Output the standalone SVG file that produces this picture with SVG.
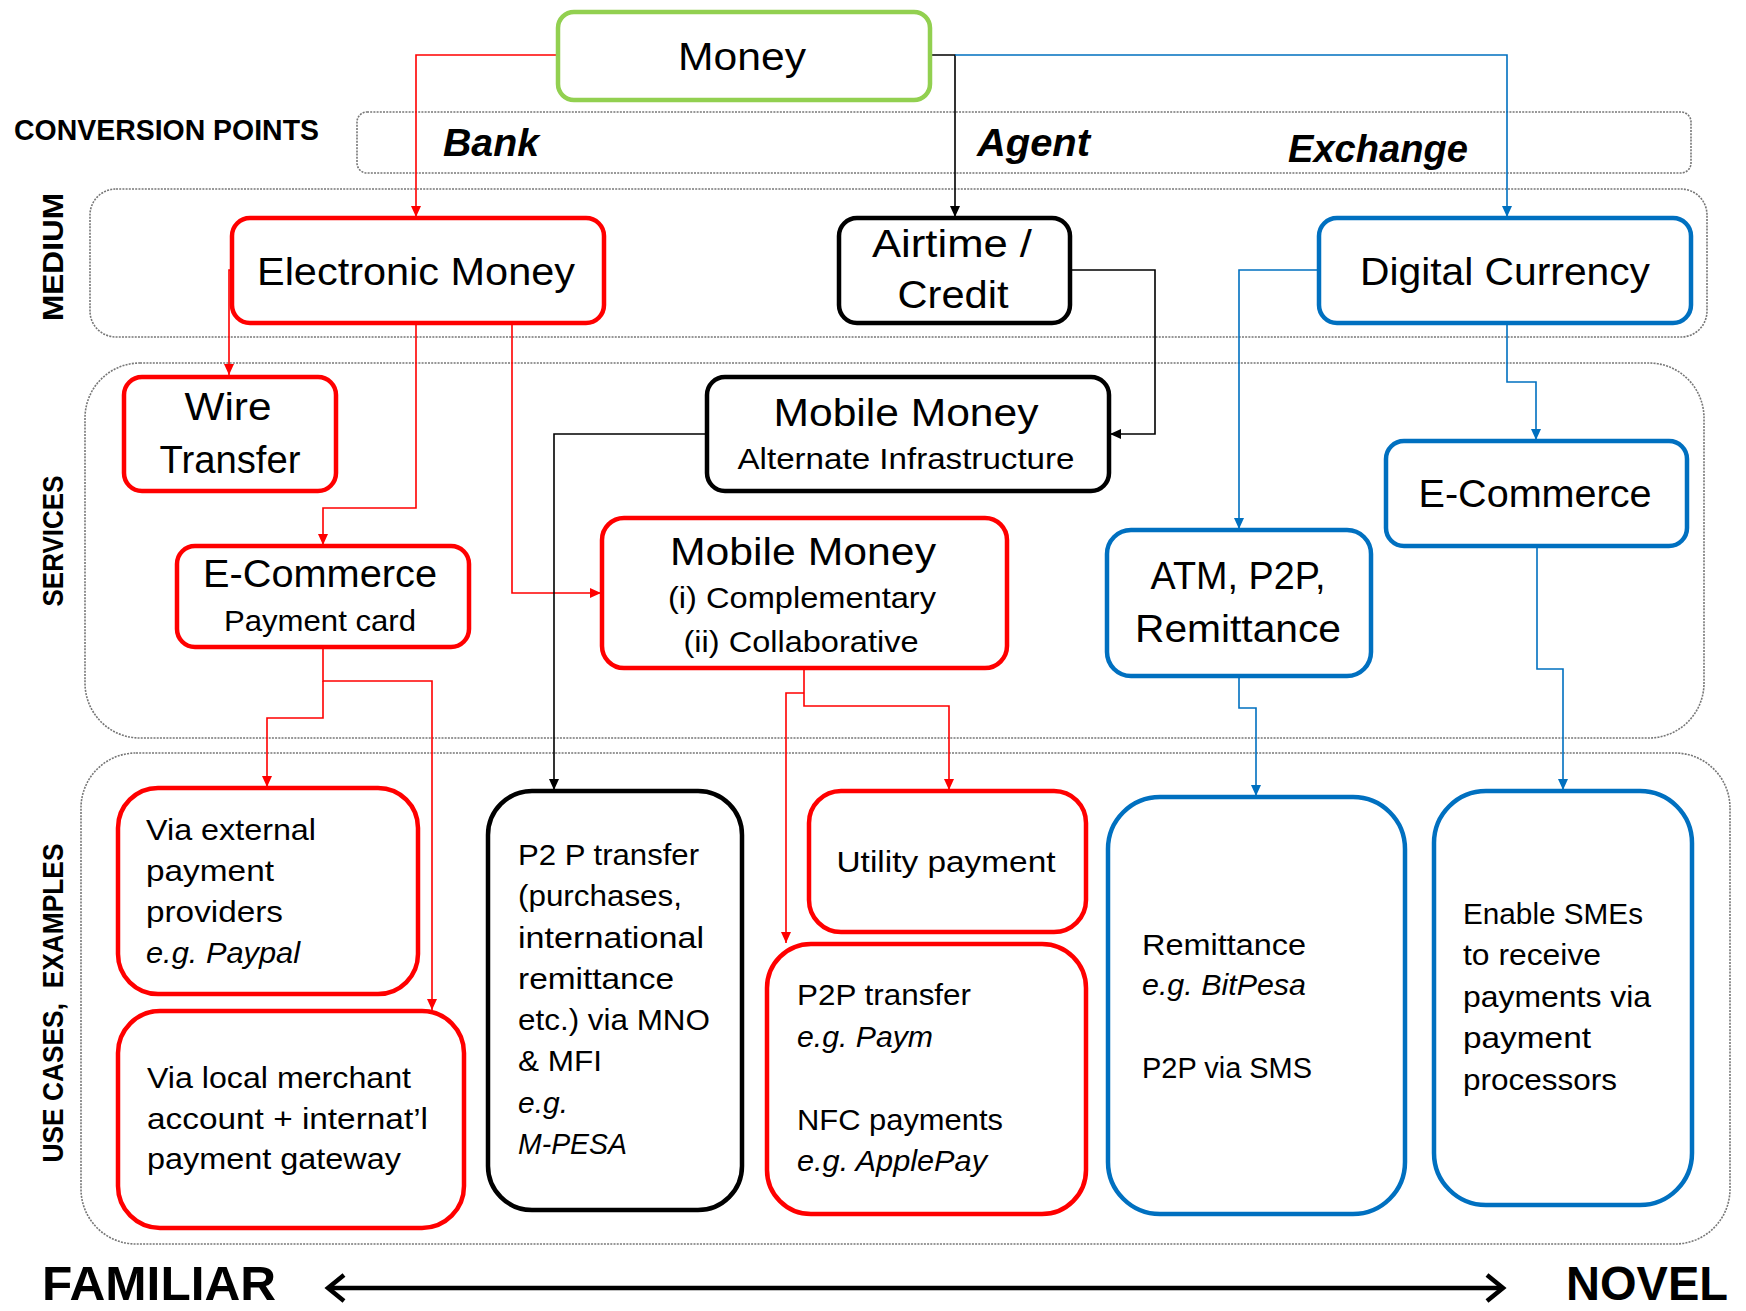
<svg xmlns="http://www.w3.org/2000/svg" width="1746" height="1311" viewBox="0 0 1746 1311">
<style>
text{font-family:"Liberation Sans",Arial,sans-serif;fill:#000}
.big{font-size:38px}
.sub{font-size:29px}
.body{font-size:29px}
.it{font-style:italic}
.side{font-size:29px;font-weight:bold}
.cp{font-size:38px;font-weight:bold;font-style:italic}
.foot{font-size:48px;font-weight:bold}
.band{fill:none;stroke:#777;stroke-width:1.6;stroke-dasharray:2 1.2}
.nr{fill:#fff;stroke:#FF0000;stroke-width:4.5}
.nb{fill:#fff;stroke:#000;stroke-width:4.5}
.nu{fill:#fff;stroke:#0070C0;stroke-width:4.5}
.ng{fill:#fff;stroke:#92D050;stroke-width:4.5}
.cr{fill:none;stroke:#FF0000;stroke-width:1.6}
.ck{fill:none;stroke:#000;stroke-width:1.6}
.cu{fill:none;stroke:#0070C0;stroke-width:1.6}
</style>
<defs>
<marker id="ar" markerUnits="userSpaceOnUse" markerWidth="12" markerHeight="12" viewBox="0 0 12 12" refX="11" refY="6" orient="auto"><path d="M0,1 L11,6 L0,11 Z" fill="#FF0000"/></marker>
<marker id="ak" markerUnits="userSpaceOnUse" markerWidth="12" markerHeight="12" viewBox="0 0 12 12" refX="11" refY="6" orient="auto"><path d="M0,1 L11,6 L0,11 Z" fill="#000"/></marker>
<marker id="au" markerUnits="userSpaceOnUse" markerWidth="12" markerHeight="12" viewBox="0 0 12 12" refX="11" refY="6" orient="auto"><path d="M0,1 L11,6 L0,11 Z" fill="#0070C0"/></marker>
</defs>
<rect width="1746" height="1311" fill="#fff"/>

<g id="bands">
<rect class="band" x="357" y="112" width="1334" height="61" rx="10"/>
<rect class="band" x="90" y="189" width="1617" height="148" rx="26"/>
<rect class="band" x="85" y="363" width="1619" height="375" rx="55"/>
<rect class="band" x="81" y="753" width="1649" height="491" rx="55"/>
</g>

<g id="labels">
<text class="side" x="14" y="140" textLength="305" lengthAdjust="spacingAndGlyphs">CONVERSION POINTS</text>
<text class="side" transform="translate(63,257) rotate(-90)" text-anchor="middle" textLength="128" lengthAdjust="spacingAndGlyphs">MEDIUM</text>
<text class="side" transform="translate(63,541) rotate(-90)" text-anchor="middle" textLength="131" lengthAdjust="spacingAndGlyphs">SERVICES</text>
<text class="side" transform="translate(63,1003) rotate(-90)" text-anchor="middle" textLength="319" lengthAdjust="spacingAndGlyphs" xml:space="preserve">USE CASES,  EXAMPLES</text>
<text class="cp" x="443" y="156" textLength="96" lengthAdjust="spacingAndGlyphs">Bank</text>
<text class="cp" x="977" y="156" textLength="113" lengthAdjust="spacingAndGlyphs">Agent</text>
<text class="cp" x="1288" y="162" textLength="180" lengthAdjust="spacingAndGlyphs">Exchange</text>
<text class="foot" x="42" y="1300" textLength="234" lengthAdjust="spacingAndGlyphs">FAMILIAR</text>
<text class="foot" x="1566" y="1300" textLength="162" lengthAdjust="spacingAndGlyphs">NOVEL</text>
</g>

<g id="connectors">
<path class="cr" d="M557,55 H416 V217" marker-end="url(#ar)"/>
<path class="cr" d="M232,270 H229 V375" marker-end="url(#ar)"/>
<path class="cr" d="M416,323 V508 H323 V545" marker-end="url(#ar)"/>
<path class="cr" d="M512,323 V593 H601" marker-end="url(#ar)"/>
<path class="cr" d="M323,647 V681 H432 V1010" marker-end="url(#ar)"/>
<path class="cr" d="M323,681 V718 H267 V787" marker-end="url(#ar)"/>
<path class="cr" d="M804,668 V706 H949 V790" marker-end="url(#ar)"/>
<path class="cr" d="M804,693 H786 V943" marker-end="url(#ar)"/>
<path class="ck" d="M930,55 H955 V217" marker-end="url(#ak)"/>
<path class="ck" d="M1069,270 H1155 V434 H1110" marker-end="url(#ak)"/>
<path class="ck" d="M707,434 H554 V790" marker-end="url(#ak)"/>
<path class="cu" d="M955,55 H1507 V217" marker-end="url(#au)"/>
<path class="cu" d="M1318,270 H1239 V529" marker-end="url(#au)"/>
<path class="cu" d="M1507,323 V382 H1536 V440" marker-end="url(#au)"/>
<path class="cu" d="M1239,677 V708 H1256 V796" marker-end="url(#au)"/>
<path class="cu" d="M1537,547 V669 H1563 V790" marker-end="url(#au)"/>
<path d="M330,1288 H1501" stroke="#000" stroke-width="4.5" fill="none"/>
<path d="M344,1275 L328,1288 L344,1301" stroke="#000" stroke-width="4.5" fill="none"/>
<path d="M1487,1275 L1503,1288 L1487,1301" stroke="#000" stroke-width="4.5" fill="none"/>
</g>

<g id="money">
<rect class="ng" x="558" y="12" width="372" height="88" rx="16"/>
<text class="big" x="742" y="70" text-anchor="middle" textLength="128" lengthAdjust="spacingAndGlyphs">Money</text>
</g>

<g id="electronic-money">
<rect class="nr" x="232" y="218" width="372" height="105" rx="18"/>
<text class="big" x="416" y="285" text-anchor="middle" textLength="318" lengthAdjust="spacingAndGlyphs">Electronic Money</text>
</g>

<g id="airtime">
<rect class="nb" x="839" y="218" width="231" height="105" rx="18"/>
<text class="big" x="952" y="257" text-anchor="middle" textLength="160" lengthAdjust="spacingAndGlyphs">Airtime /</text>
<text class="big" x="953" y="308" text-anchor="middle" textLength="111" lengthAdjust="spacingAndGlyphs">Credit</text>
</g>

<g id="digital-currency">
<rect class="nu" x="1319" y="218" width="372" height="105" rx="18"/>
<text class="big" x="1505" y="285" text-anchor="middle" textLength="290" lengthAdjust="spacingAndGlyphs">Digital Currency</text>
</g>

<g id="wire-transfer">
<rect class="nr" x="124" y="377" width="212" height="114" rx="18"/>
<text class="big" x="228" y="420" text-anchor="middle" textLength="87" lengthAdjust="spacingAndGlyphs">Wire</text>
<text class="big" x="230" y="473" text-anchor="middle" textLength="141" lengthAdjust="spacingAndGlyphs">Transfer</text>
</g>

<g id="mobile-money-alt">
<rect class="nb" x="707" y="377" width="402" height="114" rx="18"/>
<text class="big" x="906" y="426" text-anchor="middle" textLength="265" lengthAdjust="spacingAndGlyphs">Mobile Money</text>
<text class="sub" x="906" y="469" text-anchor="middle" textLength="337" lengthAdjust="spacingAndGlyphs">Alternate Infrastructure</text>
</g>

<g id="ecommerce-card">
<rect class="nr" x="177" y="546" width="292" height="101" rx="18"/>
<text class="big" x="320" y="587" text-anchor="middle" textLength="234" lengthAdjust="spacingAndGlyphs">E-Commerce</text>
<text class="sub" x="320" y="631" text-anchor="middle" textLength="192" lengthAdjust="spacingAndGlyphs">Payment card</text>
</g>

<g id="mobile-money-comp">
<rect class="nr" x="602" y="518" width="405" height="150" rx="22"/>
<text class="big" x="803" y="565" text-anchor="middle" textLength="266" lengthAdjust="spacingAndGlyphs">Mobile Money</text>
<text class="sub" x="802" y="608" text-anchor="middle" textLength="268" lengthAdjust="spacingAndGlyphs">(i) Complementary</text>
<text class="sub" x="801" y="652" text-anchor="middle" textLength="235" lengthAdjust="spacingAndGlyphs">(ii) Collaborative</text>
</g>

<g id="ecommerce-blue">
<rect class="nu" x="1386" y="441" width="301" height="105" rx="18"/>
<text class="big" x="1535" y="507" text-anchor="middle" textLength="233" lengthAdjust="spacingAndGlyphs">E-Commerce</text>
</g>

<g id="atm">
<rect class="nu" x="1107" y="530" width="264" height="146" rx="24"/>
<text class="big" x="1238" y="589" text-anchor="middle" textLength="175" lengthAdjust="spacingAndGlyphs">ATM, P2P,</text>
<text class="big" x="1238" y="642" text-anchor="middle" textLength="206" lengthAdjust="spacingAndGlyphs">Remittance</text>
</g>

<g id="via-external">
<rect class="nr" x="118" y="788" width="300" height="206" rx="40"/>
<text class="body" x="146" y="840" textLength="170" lengthAdjust="spacingAndGlyphs">Via external</text>
<text class="body" x="146" y="881" textLength="128" lengthAdjust="spacingAndGlyphs">payment</text>
<text class="body" x="146" y="922" textLength="137" lengthAdjust="spacingAndGlyphs">providers</text>
<text class="body it" x="146" y="963" textLength="154" lengthAdjust="spacingAndGlyphs">e.g. Paypal</text>
</g>

<g id="via-local">
<rect class="nr" x="118" y="1011" width="346" height="217" rx="42"/>
<text class="body" x="147" y="1088" textLength="264" lengthAdjust="spacingAndGlyphs">Via local merchant</text>
<text class="body" x="147" y="1129" textLength="281" lengthAdjust="spacingAndGlyphs">account + internat’l</text>
<text class="body" x="147" y="1169" textLength="254" lengthAdjust="spacingAndGlyphs">payment gateway</text>
</g>

<g id="p2p-mno">
<rect class="nb" x="488" y="791" width="254" height="419" rx="44"/>
<text class="body" x="518" y="865" textLength="181" lengthAdjust="spacingAndGlyphs">P2 P transfer</text>
<text class="body" x="518" y="906" textLength="164" lengthAdjust="spacingAndGlyphs">(purchases,</text>
<text class="body" x="518" y="948" textLength="186" lengthAdjust="spacingAndGlyphs">international</text>
<text class="body" x="518" y="989" textLength="156" lengthAdjust="spacingAndGlyphs">remittance</text>
<text class="body" x="518" y="1030" textLength="192" lengthAdjust="spacingAndGlyphs">etc.) via MNO</text>
<text class="body" x="518" y="1071" textLength="84" lengthAdjust="spacingAndGlyphs">&amp; MFI</text>
<text class="body it" x="518" y="1113" textLength="50" lengthAdjust="spacingAndGlyphs">e.g.</text>
<text class="body it" x="518" y="1154" textLength="109" lengthAdjust="spacingAndGlyphs">M-PESA</text>
</g>

<g id="utility">
<rect class="nr" x="809" y="791" width="277" height="141" rx="32"/>
<text class="body" x="946" y="872" text-anchor="middle" textLength="219" lengthAdjust="spacingAndGlyphs">Utility payment</text>
</g>

<g id="p2p-nfc">
<rect class="nr" x="767" y="944" width="319" height="270" rx="44"/>
<text class="body" x="797" y="1005" textLength="174" lengthAdjust="spacingAndGlyphs">P2P transfer</text>
<text class="body it" x="797" y="1047" textLength="136" lengthAdjust="spacingAndGlyphs">e.g. Paym</text>
<text class="body" x="797" y="1130" textLength="206" lengthAdjust="spacingAndGlyphs">NFC payments</text>
<text class="body it" x="797" y="1171" textLength="190" lengthAdjust="spacingAndGlyphs">e.g. ApplePay</text>
</g>

<g id="remittance">
<rect class="nu" x="1108" y="797" width="297" height="417" rx="52"/>
<text class="body" x="1142" y="955" textLength="164" lengthAdjust="spacingAndGlyphs">Remittance</text>
<text class="body it" x="1142" y="995" textLength="164" lengthAdjust="spacingAndGlyphs">e.g. BitPesa</text>
<text class="body" x="1142" y="1078" textLength="170" lengthAdjust="spacingAndGlyphs">P2P via SMS</text>
</g>

<g id="enable-smes">
<rect class="nu" x="1434" y="791" width="258" height="414" rx="52"/>
<text class="body" x="1463" y="924" textLength="180" lengthAdjust="spacingAndGlyphs">Enable SMEs</text>
<text class="body" x="1463" y="965" textLength="138" lengthAdjust="spacingAndGlyphs">to receive</text>
<text class="body" x="1463" y="1007" textLength="188" lengthAdjust="spacingAndGlyphs">payments via</text>
<text class="body" x="1463" y="1048" textLength="128" lengthAdjust="spacingAndGlyphs">payment</text>
<text class="body" x="1463" y="1090" textLength="154" lengthAdjust="spacingAndGlyphs">processors</text>
</g>
</svg>
